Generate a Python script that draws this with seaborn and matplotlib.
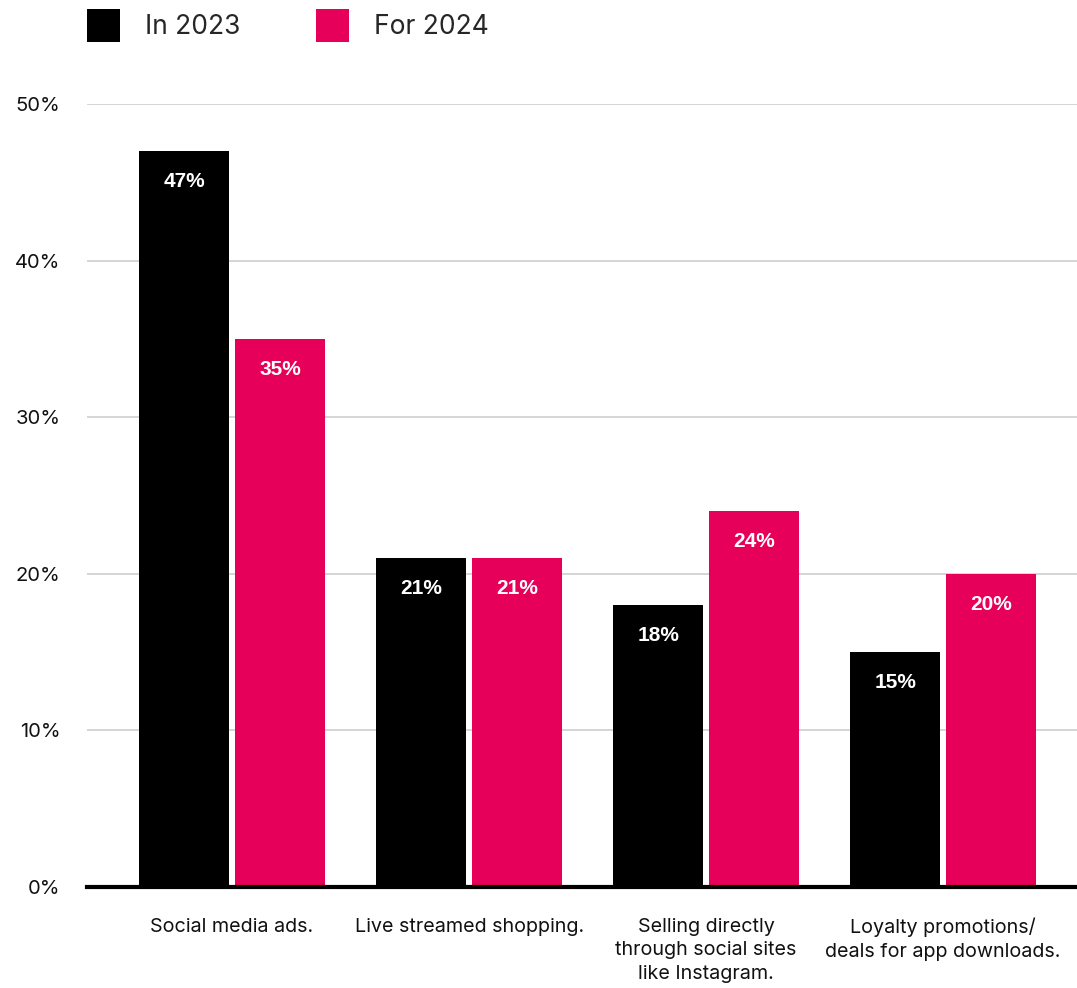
import matplotlib
matplotlib.use("Agg")
import matplotlib.pyplot as plt
import seaborn as sns
import pandas as pd

categories = ["Social media ads.", "Live streamed shopping.",
              "Selling directly\nthrough social sites\nlike Instagram.",
              "Loyalty promotions/\ndeals for app downloads."]
series_names = ["In 2023", "For 2024"]
values_2023 = [47, 21, 18, 15]
values_2024 = [35, 21, 24, 20]
y_ticks = [0, 10, 20, 30, 40, 50]
y_tick_labels = ["0%", "10%", "20%", "30%", "40%", "50%"]

colors = {"In 2023": "#000000", "For 2024": "#E6005A"}

df = pd.DataFrame({
    "category": categories * 2,
    "series": [series_names[0]] * 4 + [series_names[1]] * 4,
    "value": values_2023 + values_2024,
})

sns.set_theme(style="white")
plt.rcParams["font.family"] = ["Inter", "DejaVu Sans"]

fig = plt.figure(figsize=(10.77, 9.88), dpi=100)
ax = fig.add_axes([87 / 1077, 101 / 988, 990 / 1077, 783 / 988])

sns.barplot(data=df, x="category", y="value", hue="series", order=categories,
            hue_order=series_names, palette=colors, width=0.81, gap=0.0625,
            saturation=1, ax=ax, legend=True, edgecolor="none", linewidth=0)

ax.set_xlim(-0.612, 3.565)
ax.set_ylim(0, 50)
ax.set_yticks(y_ticks)
ax.set_yticklabels(y_tick_labels)
ax.set_xlabel("")
ax.set_ylabel("")

ax.grid(axis="y", color="#d3d5d9", linewidth=1.4)
ax.grid(axis="x", visible=False)
ax.set_axisbelow(True)
for s in ["top", "left", "right"]:
    ax.spines[s].set_visible(False)
ax.spines["bottom"].set_color("#000000")
ax.spines["bottom"].set_linewidth(3.0)
ax.spines["bottom"].set_zorder(5)

ax.tick_params(axis="y", length=0, pad=19, labelsize=14.5, labelcolor="#111111")
ax.tick_params(axis="x", length=0, pad=22, labelsize=14.2, labelcolor="#111111")
for lbl in ax.get_yticklabels():
    lbl.set_horizontalalignment("right")
for lbl in ax.get_xticklabels():
    lbl.set_linespacing(1.42)

for cont in ax.containers:
    ax.bar_label(cont, labels=[f"{int(v)}%" for v in cont.datavalues],
                 padding=-29, color="white", fontsize=15, fontweight="bold",
                 family=["Liberation Sans", "DejaVu Sans"])

handles, labels = ax.get_legend_handles_labels()
ax.legend_.remove()
fig.legend(handles, labels, loc="upper left", bbox_to_anchor=(87 / 1077, 1 - 9 / 988),
           ncol=2, frameon=False, fontsize=19, handlelength=1.25, handleheight=1.55,
           handletextpad=0.95, columnspacing=2.85, borderpad=0, borderaxespad=0)

fig.savefig("out.png", dpi=100)
